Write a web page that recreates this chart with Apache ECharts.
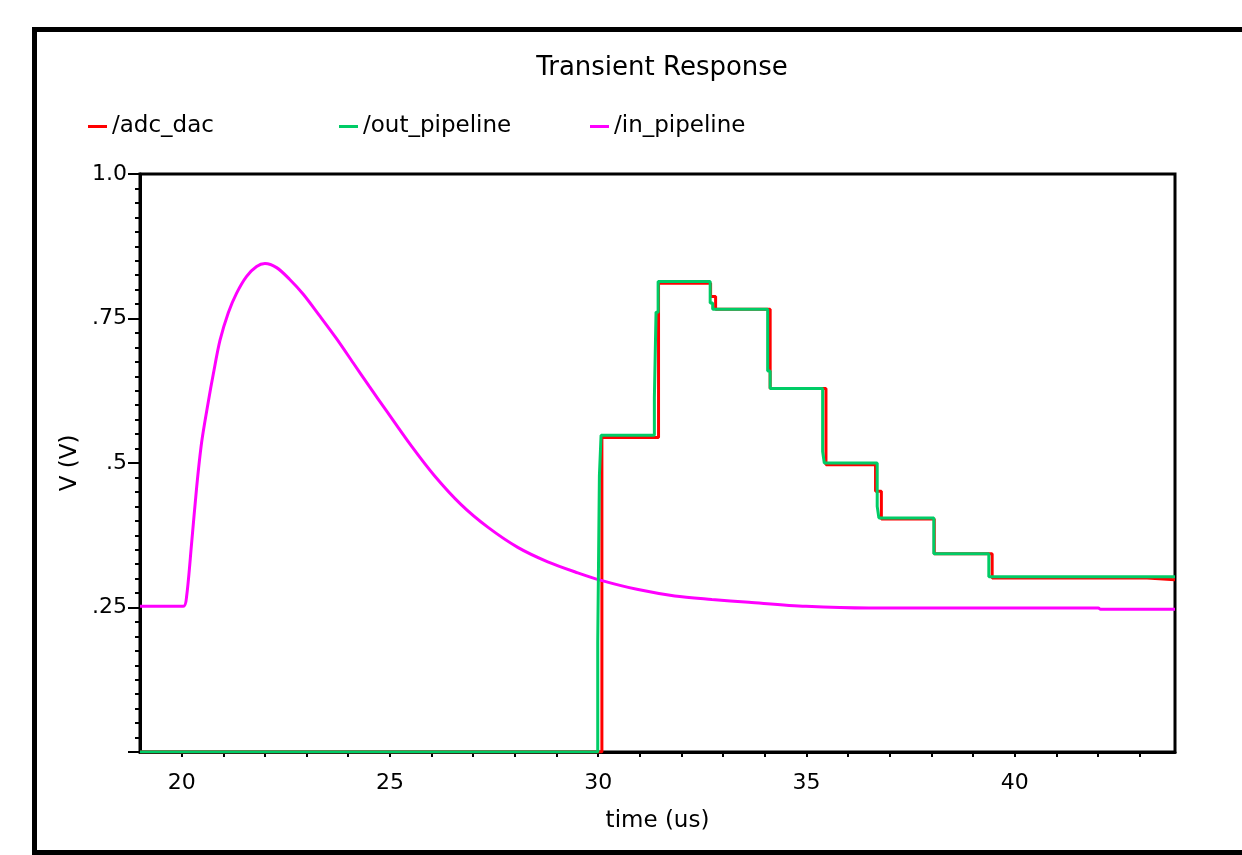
<!DOCTYPE html>
<html>
<head>
<meta charset="utf-8">
<script src="https://cdn.jsdelivr.net/npm/echarts@6/dist/echarts.min.js"></script>
<style>
html,body{margin:0;padding:0;background:#fff;}
#chart{width:1242px;height:855px;}
</style>
</head>
<body>
<div id="chart"></div>
<script>
// ---- data (time in us, voltage in V) ----
const adcTimes  = [19, 30.09, 31.45, 32.70, 32.82, 34.13, 35.47, 36.66, 36.80, 38.07, 39.46, 43.18, 43.85];
const adcValues = [0, 0.544, 0.811, 0.788, 0.766, 0.629, 0.497, 0.451, 0.403, 0.343, 0.301, 0.298, 0.298];

const outTimes  = [19, 29.99, 30.03, 30.07, 31.35, 31.39, 31.44, 32.69, 32.75, 34.07, 34.13, 35.39, 35.43, 36.70, 36.74, 38.06, 39.38, 43.85];
const outValues = [0, 0.19, 0.478, 0.548, 0.613, 0.761, 0.814, 0.777, 0.766, 0.659, 0.629, 0.520, 0.500, 0.425, 0.405, 0.343, 0.303, 0.303];

const inTimes  = [19, 20.04, 20.12, 20.24, 20.36, 20.48, 20.64, 20.76, 20.92, 21.12, 21.32, 21.56, 21.80, 22.00, 22.28, 22.59, 22.92, 23.31, 23.71, 24.12, 24.51, 24.91, 25.51, 26.07, 26.71, 27.35, 28.07, 28.79, 29.51, 30.07, 30.96, 31.84, 32.73, 33.62, 34.99, 36.50, 42.01, 42.06, 43.85];
const inValues = [0.252, 0.252, 0.270, 0.362, 0.458, 0.536, 0.606, 0.654, 0.712, 0.760, 0.794, 0.823, 0.840, 0.845, 0.838, 0.818, 0.792, 0.755, 0.716, 0.673, 0.632, 0.591, 0.530, 0.478, 0.428, 0.389, 0.354, 0.329, 0.310, 0.297, 0.281, 0.270, 0.264, 0.259, 0.252, 0.249, 0.249, 0.247, 0.247];

const seriesNames = ['/adc_dac', '/out_pipeline', '/in_pipeline'];
const xTickLabels = [20, 25, 30, 35, 40];
const xMinorTicks = [20, 21, 22, 23, 24, 25, 26, 27, 28, 29, 30, 31, 32, 33, 34, 35, 36, 37, 38, 39, 40, 41, 42, 43];
const yTickLabels = {0.25: '.25', 0.5: '.5', 0.75: '.75', 1: '1.0'};

// ---- build ----
const zip = (t, v) => t.map((x, i) => [x, v[i]]);
const FONT = "'DejaVu Sans', 'Liberation Sans', sans-serif";
const colors = ['#ff0000', '#00cc66', '#ff00ff'];

const chart = echarts.init(document.getElementById('chart'), null, {renderer: 'canvas'});

function legendAt(name, left) {
  return {
    left: left, top: 110,
    data: [{name: name, icon: 'rect'}],
    itemWidth: 19, itemHeight: 3, itemGap: 0,
    textStyle: {fontFamily: FONT, fontSize: 23, color: '#000'},
    selectedMode: false
  };
}

const option = {
  animation: false,
  backgroundColor: '#fff',
  title: {
    text: 'Transient Response',
    left: 657, top: 50, textAlign: 'center',
    textStyle: {fontFamily: FONT, fontSize: 26, fontWeight: 'normal', color: '#000'}
  },
  legend: [
    legendAt(seriesNames[0], 83),
    legendAt(seriesNames[1], 334),
    legendAt(seriesNames[2], 585)
  ],
  graphic: [{
    type: 'rect', silent: true,
    shape: {x: 34.5, y: 29.5, width: 1300, height: 823},
    style: {fill: 'none', stroke: '#000', lineWidth: 5}
  }],
  grid: {
    left: 140, right: 67, top: 174, bottom: 103,
    show: true, borderColor: '#000', borderWidth: 3, backgroundColor: 'transparent'
  },
  xAxis: {
    type: 'value', min: 19, max: 43.85,
    name: 'time (us)', nameLocation: 'middle', nameGap: 58,
    nameTextStyle: {fontFamily: FONT, fontSize: 23, color: '#000'},
    axisLine: {show: true, onZero: false, lineStyle: {color: '#000', width: 3}},
    axisTick: {show: true, customValues: xMinorTicks, length: 5, lineStyle: {color: '#000', width: 2}},
    axisLabel: {customValues: xTickLabels, margin: 20, fontFamily: FONT, fontSize: 22, color: '#000'},
    splitLine: {show: false}
  },
  yAxis: {
    type: 'value', min: 0, max: 1, interval: 0.25,
    name: 'V (V)', nameLocation: 'middle', nameGap: 54,
    nameTextStyle: {fontFamily: FONT, fontSize: 23, color: '#000'},
    axisLine: {show: true, lineStyle: {color: '#000', width: 3}},
    axisTick: {show: true, length: 12, lineStyle: {color: '#000', width: 2}},
    minorTick: {show: true, splitNumber: 10, length: 5, lineStyle: {color: '#000', width: 2}},
    axisLabel: {
      margin: 13, fontFamily: FONT, fontSize: 22, color: '#000',
      formatter: v => (yTickLabels[v] !== undefined ? yTickLabels[v] : '')
    },
    splitLine: {show: false}
  },
  series: [
    {
      name: seriesNames[0], type: 'line', step: 'end', showSymbol: false,
      data: zip(adcTimes, adcValues), color: colors[0],
      lineStyle: {color: colors[0], width: 3}, z: 2
    },
    {
      name: seriesNames[1], type: 'line', step: 'end', showSymbol: false,
      data: zip(outTimes, outValues), color: colors[1],
      lineStyle: {color: colors[1], width: 3}, z: 3
    },
    {
      name: seriesNames[2], type: 'line', showSymbol: false,
      smooth: 0.3,
      data: zip(inTimes, inValues), color: colors[2],
      lineStyle: {color: colors[2], width: 3}, z: 2
    }
  ]
};
chart.setOption(option);
</script>
</body>
</html>
